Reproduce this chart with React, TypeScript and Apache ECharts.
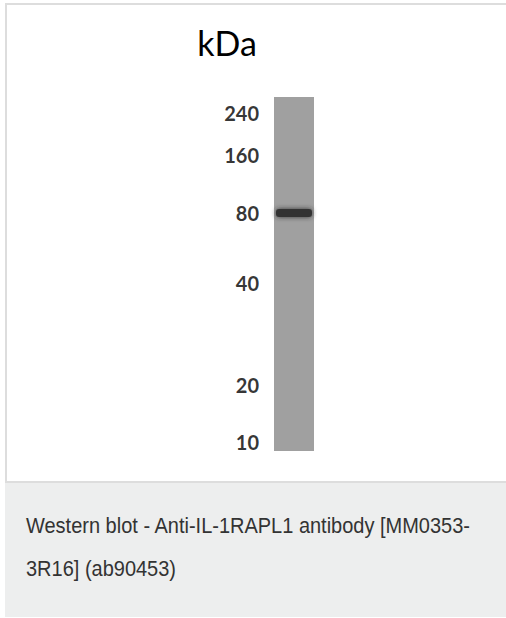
import React, { useEffect, useRef } from "react";
import * as echarts from "echarts";

// Marker ladder (kDa) and migration distance from the top of the lane (px-equivalent units)
const markerKDa = [240, 160, 80, 40, 20, 10];
const markerMigration = [16, 58, 116, 186, 288, 345];
const laneLength = 354;
const lanes = ["Lane 1"];
// Detected band: migration distance and relative intensity
const bandMigration = [116];
const bandIntensity = [1];
const captionLines = [
  "Western blot - Anti-IL-1RAPL1 antibody [MM0353-",
  "3R16] (ab90453)",
];

export default function App() {
  const ref = useRef<HTMLDivElement>(null);
  useEffect(() => {
    const chart = echarts.init(ref.current!, null, { renderer: "svg" });
    chart.setOption({
      animation: false,
      backgroundColor: "#ffffff",
      grid: { left: 274, top: 97, width: 40, height: 354 },
      xAxis: {
        type: "category",
        data: lanes,
        show: false,
        boundaryGap: true,
      },
      yAxis: {
        type: "value",
        inverse: true,
        min: 0,
        max: laneLength,
        show: false,
      },
      graphic: [
        {
          type: "rect",
          shape: { x: 6, y: 4, width: 520, height: 478 },
          style: { fill: "none", stroke: "#dddddd", lineWidth: 2 },
          silent: true,
          z: -10,
        },
        {
          type: "rect",
          shape: { x: 5, y: 483, width: 501, height: 134 },
          style: { fill: "#edeeee" },
          silent: true,
        },
        {
          type: "text",
          x: 227,
          y: 42,
          style: {
            text: "kDa",
            fontSize: 34,
            fontFamily: "Lato, sans-serif",
            fill: "#000",
            align: "center",
            verticalAlign: "middle",
          },
        },
        ...captionLines.map((t, i) => ({
          type: "text",
          x: 26,
          y: 525 + i * 43.5,
          scaleY: 1.12,
          style: {
            text: t,
            fontSize: 20,
            fontFamily: "'Liberation Sans', Arial, sans-serif",
            fill: "#333",
            align: "left",
            verticalAlign: "middle",
          },
        })),
      ],
      series: [
        {
          type: "bar",
          data: [laneLength],
          barWidth: 40,
          itemStyle: { color: "#a0a0a0" },
          silent: true,
          z: 1,
        },
        {
          type: "scatter",
          data: markerMigration.map((m, i) => [lanes[0], m, markerKDa[i]]),
          symbolSize: 0,
          label: {
            show: true,
            position: "left",
            distance: 35,
            formatter: (p: any) => String(p.value[2]),
            fontSize: 20,
            fontWeight: "bold",
            fontFamily: "Lato, sans-serif",
            color: "#000",
            align: "right",
            verticalAlign: "middle",
          },
          z: 2,
        },
        {
          type: "custom",
          data: bandMigration.map((m, i) => [lanes[0], m, bandIntensity[i]]),
          renderItem: (params: any, api: any) => {
            const c = api.coord([api.value(0), api.value(1)]);
            const size = api.size([1, 0]);
            const w = size[0] - 4;
            return {
              type: "rect",
              shape: { x: c[0] - w / 2, y: c[1] - 4, width: w, height: 8, r: 3 },
              style: {
                fill: "#333333",
                opacity: api.value(2),
                shadowBlur: 5,
                shadowColor: "rgba(40,40,40,0.9)",
              },
            };
          },
          z: 3,
        },
      ],
    });
    return () => chart.dispose();
  }, []);
  return (
    <div
      ref={ref}
      style={{ position: "fixed", left: 0, top: 0, width: 506, height: 618 }}
    />
  );
}
